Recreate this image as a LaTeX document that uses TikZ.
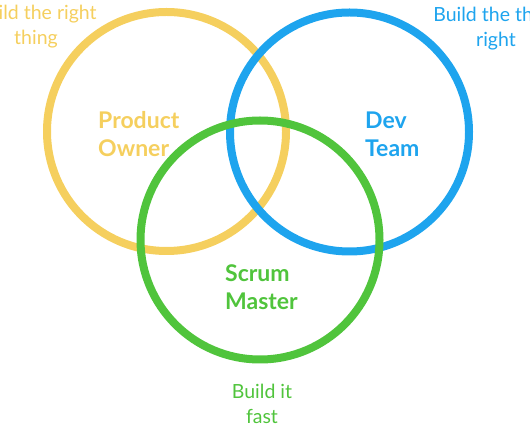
\documentclass[tikz,border=0pt]{standalone}
\usepackage{fontspec}
\setmainfont{Lato}
\usetikzlibrary{positioning}
\definecolor{poyellow}{HTML}{F5CF5E}
\definecolor{devblue}{HTML}{1EA4EE}
\definecolor{smgreen}{HTML}{50C43C}
\tikzset{
    ring/.style={circle, line width=8pt, minimum size=239pt, inner sep=0pt},
    role/.style={font=\fontsize{23}{28}\selectfont\bfseries, align=left, anchor=west, inner sep=0pt},
    motto/.style={font=\fontsize{19.5}{25}\selectfont, align=center, inner sep=0pt},
}
\begin{document}
\begin{tikzpicture}[x=1pt, y=-1pt]
    \useasboundingbox (0,0) rectangle (530,443);
    \clip (0,0) rectangle (530,443);
    % the three roles
    \node [ring, draw=poyellow] (po) at (166.5,131.5) {};
    \node [ring, draw=devblue] (dev) at (349.5,132) {};
    \node [ring, draw=smgreen] (sm) at (260,240) {};
    \node [role, text=poyellow] (polabel) at (98,134) {Product\\Owner};
    \node [role, text=devblue] (devlabel) at (365,134) {Dev\\Team};
    \node [role, text=smgreen] (smlabel) at (225,287) {Scrum\\Master};
    % what each one is for
    \node [motto, text=poyellow] (pomotto) at (36,27) {Build the right\\thing};
    \node [motto, text=devblue] (devmotto) at (496,29) {Build the thing\\right};
    \node [motto, text=smgreen] (smmotto) at (262,404) {Build it\\fast};
\end{tikzpicture}
\end{document}
